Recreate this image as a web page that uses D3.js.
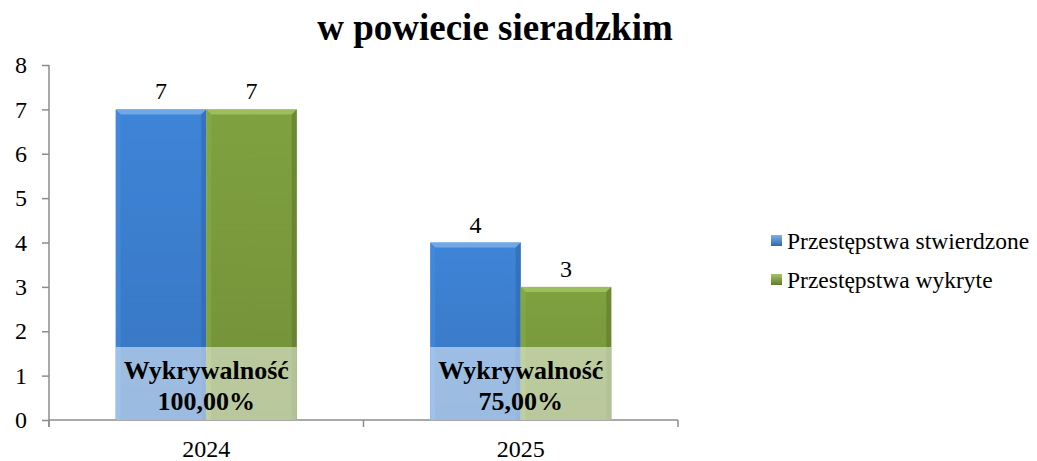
<!DOCTYPE html>
<html>
<head>
<meta charset="utf-8">
<script src="https://cdn.jsdelivr.net/npm/d3@7"></script>
<style>
  body { margin: 0; background: #fff; }
</style>
</head>
<body>
<svg id="chart" width="1037" height="461"></svg>
<script>
const years = ['2024', '2025'];
const seriesNames = ['Przestępstwa stwierdzone', 'Przestępstwa wykryte'];
const stwierdzone = [7, 4];
const wykryte = [7, 3];
const wykrywalnosc = ['100,00%', '75,00%'];
const yTicks = [0, 1, 2, 3, 4, 5, 6, 7, 8];

const colors = ['#3c7fcf', '#7b9b3d'];
const dark = ['#2f67ad', '#5f7a2c'];
const light = ['#7fb0ea', '#a6c464'];
const FONT = '"Liberation Serif", "Times New Roman", serif';

const svg = d3.select('#chart');
const margin = {left: 49, right: 359, top: 65, bottom: 41};
const W = 1037, H = 461;

const x = d3.scaleBand().domain(years).range([margin.left, W - margin.right]).paddingInner(0).paddingOuter(0);
const x1 = d3.scaleBand().domain([0, 1]).range([0, x.bandwidth()]).paddingInner(0).paddingOuter(0.737);
const y = d3.scaleLinear().domain([0, 8]).range([H - margin.bottom, margin.top]);

const defs = svg.append('defs');
colors.forEach((c, i) => {
  const g = defs.append('linearGradient').attr('id', 'grad' + i).attr('x1', 0).attr('x2', 0).attr('y1', 0).attr('y2', 1);
  g.append('stop').attr('offset', '0%').attr('stop-color', d3.color(c).brighter(0.1));
  g.append('stop').attr('offset', '100%').attr('stop-color', d3.color(c).darker(0.2));
  const lg = defs.append('linearGradient').attr('id', 'leg' + i).attr('x1', 0).attr('x2', 0).attr('y1', 0).attr('y2', 1);
  lg.append('stop').attr('offset', '0%').attr('stop-color', light[i]);
  lg.append('stop').attr('offset', '100%').attr('stop-color', dark[i]);
});

// title
svg.append('text').attr('x', 495).attr('y', 40).attr('text-anchor', 'middle')
  .style('font-family', FONT)
  .attr('font-size', 37).attr('font-weight', 'bold').text('w powiecie sieradzkim');

// axes
const yAxis = svg.append('g').attr('transform', `translate(${margin.left},0)`)
  .call(d3.axisLeft(y).tickValues(yTicks).tickSize(7).tickPadding(15));
const xAxis = svg.append('g').attr('transform', `translate(0,${y(0)})`)
  .call(d3.axisBottom(x).tickSize(0).tickPadding(20));
const bounds = [margin.left, x(years[1]), W - margin.right];
svg.append('g').selectAll('line').data(bounds).join('line')
  .attr('x1', d => d).attr('x2', d => d).attr('y1', y(0)).attr('y2', y(0) + 7)
  .attr('stroke', '#8c8c8c').attr('stroke-width', 1.5);
[yAxis, xAxis].forEach(a => {
  a.attr('font-family', null);
  a.selectAll('path,line').attr('stroke', '#8c8c8c').attr('stroke-width', 1.5);
  a.selectAll('text').attr('font-size', 24).attr('fill', '#000').style('font-family', FONT);
});
xAxis.select('.domain').attr('d', `M${margin.left},0H${W - margin.right}`);
yAxis.select('.domain').attr('d', `M0,${y(8)}V${y(0) + 7}`);

// bars
const data = [];
years.forEach((yr, i) => {
  data.push({yr, s: 0, v: stwierdzone[i]});
  data.push({yr, s: 1, v: wykryte[i]});
});
const bev = 5;
const bars = svg.append('g').selectAll('g').data(data).join('g');
bars.each(function(d) {
  const g = d3.select(this);
  const x0 = x(d.yr) + x1(d.s), w = x1.bandwidth();
  const y0 = y(d.v), y1 = y(0);
  g.append('rect').attr('x', x0).attr('y', y0).attr('width', w).attr('height', y1 - y0)
    .attr('fill', `url(#grad${d.s})`);
  g.append('polygon').attr('points', [[x0, y0], [x0 + w, y0], [x0 + w - bev, y0 + bev], [x0 + bev, y0 + bev]].join(' '))
    .attr('fill', light[d.s]).attr('opacity', 0.8);
  g.append('polygon').attr('points', [[x0, y0], [x0 + bev, y0 + bev], [x0 + bev, y1], [x0, y1]].join(' '))
    .attr('fill', d3.color(colors[d.s]).brighter(0.3)).attr('opacity', 0.5);
  g.append('polygon').attr('points', [[x0 + w, y0], [x0 + w - bev, y0 + bev], [x0 + w - bev, y1], [x0 + w, y1]].join(' '))
    .attr('fill', dark[d.s]).attr('opacity', 0.6);
  g.append('text').attr('x', x0 + w / 2).attr('y', y0 - 10).attr('text-anchor', 'middle')
    .style('font-family', FONT).attr('font-size', 24).text(d.v);
});

// detection rate overlay
years.forEach((yr, i) => {
  const x0 = x(yr) + x1(0), w = x1.bandwidth() * 2;
  svg.append('rect').attr('x', x0).attr('y', 347).attr('width', w).attr('height', y(0) - 347)
    .attr('fill', '#fff').attr('opacity', 0.5);
  const t = svg.append('text').attr('text-anchor', 'middle').attr('font-size', 26).attr('font-weight', 'bold')
    .style('font-family', FONT);
  t.append('tspan').attr('x', x0 + w / 2).attr('y', 379).text('Wykrywalność');
  t.append('tspan').attr('x', x0 + w / 2).attr('y', 410).text(wykrywalnosc[i]);
});

// legend
const leg = svg.append('g').selectAll('g').data(seriesNames).join('g')
  .attr('transform', (d, i) => `translate(771,${235 + i * 39})`);
leg.append('rect').attr('width', 11).attr('height', 11).attr('fill', (d, i) => `url(#leg${i})`);
leg.append('text').attr('x', 16).attr('y', 14).attr('font-size', 23.5).style('font-family', FONT).text(d => d);
</script>
</body>
</html>
